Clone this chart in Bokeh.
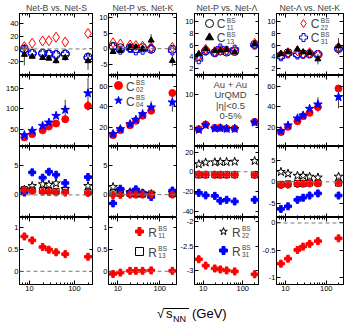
import numpy as np
from bokeh.plotting import figure
from bokeh.layouts import gridplot, column
from bokeh.models import (Range1d, FixedTicker, CustomJSTickFormatter, Span, Label,
                          Legend, LegendItem, LogAxis, LinearAxis, Div)
from bokeh.embed import file_html
from bokeh.resources import INLINE

# ---------------- data ----------------
energy = [7.7, 11.5, 19.6, 27, 39, 62.4, 200]
titles = ["Net-B vs. Net-S", "Net-P vs. Net-K", "Net-P vs. Net-\u039b", "Net-\u039b vs. Net-K"]
x_ticks = [10, 100]
x_minor = [6, 7, 8, 9, 20, 30, 40, 50, 60, 70, 80, 90, 200]

# row 1 : C^BS_11, C^BS_13, C^BS_22, C^BS_31
c11_bs = [0.0, -7.0, -7.0, -8.0, -9.0, -8.0, -13.0]
c13_bs = [-9.0, -12.0, -14.0, -15.0, -19.0, -14.0, -19.0]
c22_bs = [3.6, 9.0, 12.5, 13.0, 18.5, 11.0, 24.5]
c31_bs = [-2.0, -7.0, -7.0, -8.0, -9.0, -8.0, -14.0]
e13_bs = [17.0, 3.0, 3.0, 3.0, 4.0, 5.0, 14.0]

c11_pk = [0.8, 0.3, 0.3, 0.0, 0.3, -0.2, -0.2]
c13_pk = [-1.0, -0.7, 0.3, 0.5, 0.0, 2.7, -3.9]
c22_pk = [1.9, 1.5, 1.2, 1.0, 0.8, 0.5, 0.4]
c31_pk = [0.5, -0.5, 0.1, -0.7, -0.5, 0.0, -0.7]
e13_pk = [0.4, 0.4, 0.4, 0.4, 0.5, 2.0, 1.8]

c11_pl = [4.0, 5.0, 4.7, 5.0, 4.8, 4.9, 6.1]
c13_pl = [4.5, 5.3, 5.0, 5.1, 5.2, 4.8, 6.2]
c22_pl = [4.2, 5.3, 4.9, 5.1, 5.0, 5.1, 6.3]
c31_pl = [3.5, 5.0, 4.7, 5.5, 5.1, 5.3, 6.0]
e13_pl = [0.3, 0.3, 0.3, 0.3, 0.3, 0.4, 0.5]

c11_lk = [4.2, 4.7, 4.5, 4.5, 4.5, 4.4, 5.4]
c13_lk = [4.5, 4.8, 5.3, 4.8, 4.7, 3.6, 5.8]
c22_lk = [4.3, 4.7, 5.0, 4.5, 4.7, 4.3, 5.6]
c31_lk = [4.0, 4.5, 4.3, 4.4, 4.5, 4.4, 5.4]
e13_lk = [0.3, 0.3, 0.4, 0.4, 0.4, 0.9, 1.4]

# row 2 : C^BS_02, C^BS_04
c02_bs = [29.6, 37.7, 47.5, 56.6, 64.0, 74.6, 107.6]
c04_bs = [35.2, 46.0, 58.3, 66.5, 83.0, 98.0, 139.0]
e02_bs = [2.0, 2.0, 2.0, 3.0, 3.0, 4.0, 12.0]
e04_bs = [3.0, 4.0, 5.0, 10.0, 6.0, 25.0, 38.0]

c02_pk = [12.6, 17.4, 22.2, 26.5, 31.4, 36.3, 53.5]
c04_pk = [13.6, 18.4, 23.2, 27.5, 33.0, 39.5, 44.4]
e02_pk = [0.5, 0.5, 0.6, 0.7, 0.8, 1.5, 3.0]
e04_pk = [1.0, 1.0, 1.0, 1.5, 2.0, 6.0, 9.0]

c02_pl = [4.75, 5.45, 4.95, 4.95, 4.85, 4.85, 5.85]
c04_pl = [4.65, 5.35, 4.85, 4.90, 4.80, 4.80, 5.75]
e02_pl = [0.1, 0.1, 0.1, 0.1, 0.1, 0.1, 0.15]
e04_pl = [0.15, 0.15, 0.15, 0.15, 0.15, 0.15, 0.2]

c02_lk = [15.5, 20.6, 26.1, 31.0, 34.2, 39.8, 57.9]
c04_lk = [16.5, 22.0, 28.8, 31.7, 38.2, 42.4, 49.6]
e02_lk = [0.5, 0.6, 0.8, 1.0, 1.5, 4.0, 3.0]
e04_lk = [1.0, 1.0, 2.0, 2.0, 3.0, 7.0, 11.0]

# rows 3 & 4 : R^BS_11, R^BS_13, R^BS_22, R^BS_31
r11_bs = [0.79, 0.70, 0.55, 0.49, 0.43, 0.39, 0.33]
r13_bs = [0.9, 0.8, 0.7, 0.7, 0.6, 0.8, 0.5]
r22_bs = [0.9, 1.5, 1.8, 1.7, 1.95, 1.0, 1.5]
r31_bs = [0.4, 3.8, 2.9, 3.9, 3.4, 2.0, 3.0]
e11_bs = [0.04, 0.04, 0.04, 0.04, 0.04, 0.04, 0.04]

r11_pk = [-0.06, -0.03, 0.01, 0.01, 0.01, 0.02, 0.01]
r13_pk = [0.3, 0.2, 0.2, 0.1, 0.1, 0.1, 0.1]
r22_pk = [1.3, 0.7, 0.4, 0.2, 0.2, 0.1, 0.3]
r31_pk = [-1.5, 1.0, 0.3, 0.9, 0.3, -0.4, 0.7]
e11_pk = [0.04, 0.04, 0.04, 0.04, 0.04, 0.04, 0.04]

r11_pl = [-2.77, -2.90, -2.96, -2.98, -3.00, -3.02, -3.08]
r13_pl = [-3.2, -3.1, -3.0, -3.0, -3.0, -3.0, -3.1]
r22_pl = [7.7, 9.5, 9.7, 10.0, 10.0, 10.3, 11.0]
r31_pl = [-21.4, -24.0, -24.5, -29.5, -28.5, -30.2, -28.5]
e11_pl = [0.04, 0.04, 0.04, 0.04, 0.04, 0.04, 0.04]

r11_lk = [-0.74, -0.65, -0.49, -0.43, -0.38, -0.33, -0.28]
r13_lk = [-0.6, -0.5, -0.4, -0.4, -0.3, -0.3, -0.3]
r22_lk = [2.3, 1.9, 1.4, 1.4, 1.2, 1.0, 1.2]
r31_lk = [-6.3, -5.7, -4.2, -3.7, -3.2, -2.7, -3.2]
e11_lk = [0.04, 0.04, 0.04, 0.04, 0.04, 0.04, 0.04]

y_ranges = [[(-42, 56), (-8.7, 11.4), (0.8, 11.4), (0.8, 11.4)],
            [(7, 183), (1.5, 70.5), (2.15, 12.8), (1.5, 70.5)],
            [(-3.8, 8.15), (-3.9, 8.2), (-46.5, 25.7), (-8.3, 8.2)],
            [(-0.3, 1.22), (-0.3, 1.22), (-3.29, -1.91), (-1.12, 0.1)]]
y_ticks = [[[-20, 0, 20, 40], [-5, 0, 5, 10], [2, 4, 6, 8, 10], [2, 4, 6, 8, 10]],
           [[50, 100, 150], [20, 40, 60], [5, 10], [20, 40, 60]],
           [[0, 5], [0, 5], [-40, -20, 0, 20], [-5, 0, 5]],
           [[0, 0.5, 1], [0, 0.5, 1], [-3, -2.5, -2], [-1, -0.5, 0]]]

# ---------------- styles / layout ----------------
FONT = "Liberation Sans"
RED = "#ff0000"
BLUE = "#0000ff"
ERR = "#444444"
col_lb = [19, 15, 14, 14]
col_fw = [74, 69, 68, 70]
col_rb = [0, 0, 0, 2]
row_tb = [12, 0, 0, 0]
row_fh = [63, 71, 71, 67]
row_bb = [0, 0, 0, 14]

show_fmt = CustomJSTickFormatter(code="return String(tick);")
blank_fmt = CustomJSTickFormatter(code="return '';")

# marker styles: (marker, line colour, fill colour, size)
S_C11 = ("circle", "black", None, 8)
S_C13 = ("triangle", "black", "black", 6)
S_C22 = ("diamond", RED, None, 10)
S_C31 = ("plus", BLUE, None, 8)
S_C02 = ("circle", RED, RED, 7)
S_C04 = ("star", BLUE, BLUE, 9)
S_R11 = ("plus", RED, RED, 7)
S_R13 = ("square", "black", None, 6)
S_R22 = ("star", "black", None, 9)
S_R31 = ("plus", BLUE, BLUE, 7)


def style_axis(ax, ticker, labels):
    ax.ticker = ticker
    ax.formatter = show_fmt if labels else blank_fmt
    ax.major_tick_in = 4
    ax.major_tick_out = 0
    ax.minor_tick_in = 2
    ax.minor_tick_out = 0
    ax.major_label_standoff = 1 if labels else 0
    ax.major_label_text_font = FONT
    ax.major_label_text_font_size = "7.5px" if labels else "0px"
    ax.major_label_text_color = "black"
    ax.axis_line_color = "black"
    ax.major_tick_line_color = "black"
    ax.minor_tick_line_color = "black"


def add_marks(p, ys, style, visible=True):
    marker, lc, fc, size = style
    return p.scatter(x=energy, y=ys, marker=marker, size=size, line_color=lc,
                     fill_color=fc, line_width=1, visible=visible)


def add_err(p, ys, err, color=ERR):
    y = np.array(ys, dtype=float)
    e = np.array(err, dtype=float)
    p.segment(x0=energy, y0=y - e, x1=energy, y1=y + e, line_color=color, line_width=1)


def make_panel(r, c):
    ylo, yhi = y_ranges[r][c]
    p = figure(width=col_lb[c] + col_fw[c] + col_rb[c], height=row_tb[r] + row_fh[r] + row_bb[r],
               x_axis_type="log", x_range=Range1d(6, 265), y_range=Range1d(ylo, yhi),
               output_backend="svg", toolbar_location=None,
               title=titles[c] if r == 0 else None,
               min_border_left=col_lb[c], min_border_right=col_rb[c],
               min_border_top=row_tb[r], min_border_bottom=row_bb[r])
    if r == 0:
        p.title.align = "center"
        p.title.text_font = FONT
        p.title.text_font_size = "8.8px"
        p.title.text_font_style = "normal"
        p.title.standoff = 1
    p.grid.visible = False
    p.outline_line_color = "black"
    p.background_fill_color = "white"
    p.border_fill_color = "white"
    style_axis(p.xaxis[0], FixedTicker(ticks=x_ticks, minor_ticks=x_minor), r == 3)
    style_axis(p.yaxis[0], FixedTicker(ticks=y_ticks[r][c], minor_ticks=[]), True)
    top = LogAxis()
    style_axis(top, FixedTicker(ticks=x_ticks, minor_ticks=x_minor), False)
    p.add_layout(top, "above")
    right = LinearAxis()
    style_axis(right, FixedTicker(ticks=y_ticks[r][c], minor_ticks=[]), False)
    p.add_layout(right, "right")
    if ylo < 0 < yhi:
        p.add_layout(Span(location=0, dimension="width", line_color="#777777",
                          line_dash="4 3", line_width=1))
    return p


def add_key(p, renderer, fh, mx, my, sym, sup, sub, dx=7.3):
    leg = Legend(items=[LegendItem(label="", renderers=[renderer])],
                 location=(mx - 10, fh - my - 10),
                 border_line_color=None, background_fill_color=None, background_fill_alpha=0,
                 inactive_fill_alpha=0,
                 padding=0, margin=0, spacing=0, glyph_width=20, glyph_height=20,
                 label_standoff=0, label_width=0, label_height=0, label_text_font_size="1px")
    p.add_layout(leg)
    p.add_layout(Label(x=mx + dx, y=fh - my - 1.1, x_units="screen", y_units="screen", text=sym,
                       text_font=FONT, text_font_size="12px", text_baseline="middle"))
    p.add_layout(Label(x=mx + dx + 10, y=fh - my + 3.2, x_units="screen", y_units="screen", text=sup,
                       text_font=FONT, text_font_size="6.5px", text_baseline="middle"))
    p.add_layout(Label(x=mx + dx + 10, y=fh - my - 3.8, x_units="screen", y_units="screen", text=sub,
                       text_font=FONT, text_font_size="6.5px", text_baseline="middle"))


row1 = [(c11_bs, c13_bs, c22_bs, c31_bs, e13_bs),
        (c11_pk, c13_pk, c22_pk, c31_pk, e13_pk),
        (c11_pl, c13_pl, c22_pl, c31_pl, e13_pl),
        (c11_lk, c13_lk, c22_lk, c31_lk, e13_lk)]
row2 = [(c02_bs, c04_bs, e02_bs, e04_bs),
        (c02_pk, c04_pk, e02_pk, e04_pk),
        (c02_pl, c04_pl, e02_pl, e04_pl),
        (c02_lk, c04_lk, e02_lk, e04_lk)]
row3 = [(r11_bs, r13_bs, r22_bs, r31_bs, e11_bs),
        (r11_pk, r13_pk, r22_pk, r31_pk, e11_pk),
        (r11_pl, r13_pl, r22_pl, r31_pl, e11_pl),
        (r11_lk, r13_lk, r22_lk, r31_lk, e11_lk)]

grid = [[None] * 4 for _ in range(4)]
for c in range(4):
    # row 1
    p = make_panel(0, c)
    c11, c13, c22, c31, e13 = row1[c]
    add_err(p, c13, e13)
    r_c11 = add_marks(p, c11, S_C11)
    r_c31 = add_marks(p, c31, S_C31)
    r_c22 = add_marks(p, c22, S_C22)
    r_c13 = add_marks(p, c13, S_C13)
    if c == 2:
        add_key(p, r_c11, row_fh[0], 15.0, 10.7, "C", "BS", "11")
        add_key(p, r_c13, row_fh[0], 15.0, 24.7, "C", "BS", "13")
    if c == 3:
        add_key(p, r_c22, row_fh[0], 27.0, 10.7, "C", "BS", "22")
        add_key(p, r_c31, row_fh[0], 27.0, 24.7, "C", "BS", "31")
    grid[0][c] = p

    # row 2
    p = make_panel(1, c)
    c02, c04, e02, e04 = row2[c]
    add_err(p, c02, e02)
    add_err(p, c04, e04)
    r_c02 = add_marks(p, c02, S_C02)
    r_c04 = add_marks(p, c04, S_C04)
    if c == 1:
        add_key(p, r_c02, row_fh[1], 10.3, 10.3, "C", "BS", "02")
        add_key(p, r_c04, row_fh[1], 10.3, 25.3, "C", "BS", "04")
    if c == 2:
        for txt, dy in zip(["Au + Au", "UrQMD", "|\u03b7|<0.5", "0-5%"], [8.7, 19.3, 30.3, 40.3]):
            p.add_layout(Label(x=36, y=row_fh[1] - dy, x_units="screen", y_units="screen",
                               text=txt, text_font=FONT, text_font_size="9.5px",
                               text_align="center", text_baseline="middle"))
    grid[1][c] = p

    # row 3
    p = make_panel(2, c)
    r11, r13, r22, r31, e11 = row3[c]
    add_marks(p, r13, S_R13)
    add_marks(p, r22, S_R22)
    add_marks(p, r31, S_R31)
    add_marks(p, r11, S_R11)
    grid[2][c] = p

    # row 4
    p = make_panel(3, c)
    add_err(p, r11, e11, RED)
    r_r11 = add_marks(p, r11, S_R11)
    if c == 1:
        r_r13 = add_marks(p, r13, S_R13, visible=False)
        add_key(p, r_r11, row_fh[3], 31.3, 14.3, "R", "BS", "11", dx=8.5)
        add_key(p, r_r13, row_fh[3], 31.3, 34.3, "R", "BS", "13", dx=8.5)
    if c == 2:
        r_r22 = add_marks(p, r22, S_R22, visible=False)
        r_r31 = add_marks(p, r31, S_R31, visible=False)
        add_key(p, r_r22, row_fh[3], 29.0, 14.3, "R", "BS", "22", dx=8.5)
        add_key(p, r_r31, row_fh[3], 29.0, 33.0, "R", "BS", "31", dx=8.5)
    grid[3][c] = p

# x-axis title (HTML text)
xtitle_html = (
    '<div style="position:relative;width:345px;height:26px;'
    'font-family:\'Liberation Sans\',Arial,sans-serif;color:#000;">'
    '<span style="position:absolute;left:152px;top:4px;font-size:13px;line-height:13px;">&#8730;</span>'
    '<span style="position:absolute;left:161px;top:4px;font-size:13px;line-height:13px;">s</span>'
    '<span style="position:absolute;left:168px;top:12px;font-size:9px;line-height:9px;">NN</span>'
    '<span style="position:absolute;left:187px;top:4px;font-size:13px;line-height:13px;">(GeV)</span>'
    '<div style="position:absolute;left:159px;top:5px;width:25px;height:1px;background:#000;"></div>'
    '</div>'
)
xt = Div(text=xtitle_html, width=345, height=26)

layout = column(gridplot(grid, toolbar_location=None), xt)
open("out.html", "w").write(file_html(layout, INLINE))
